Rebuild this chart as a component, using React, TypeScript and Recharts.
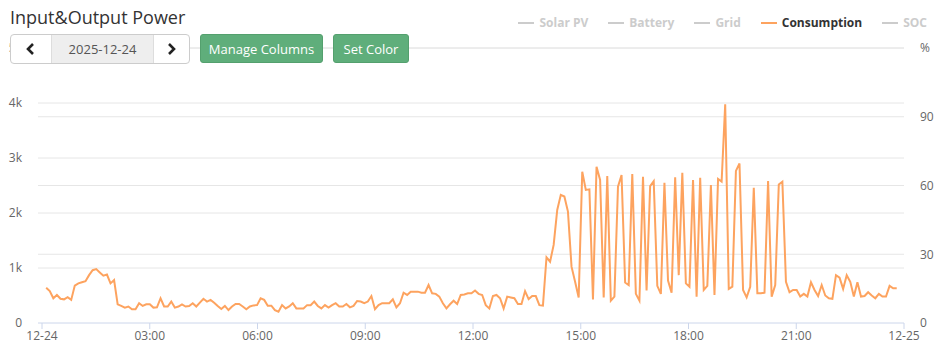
import { LineChart, Line, XAxis, YAxis, ReferenceLine } from "recharts";

// consumption samples (W), roughly every 6 min from 00:07
const consumption = [
  640, 580, 450, 510, 440, 430, 470, 420, 680, 720, 740, 760, 870, 960, 980, 920, 860, 880, 720, 780,
  340, 310, 280, 300, 250, 250, 360, 310, 340, 340, 280, 285, 450, 300, 300, 390, 280, 300, 340, 300, 310,
  360, 300, 370, 440, 390, 420, 370, 310, 255, 310, 235, 300, 345, 345, 300, 250, 300, 320, 325, 450,
  420, 315, 315, 235, 205, 325, 265, 300, 360, 265, 265, 265, 325, 325, 390, 310, 265, 325, 280, 325, 360,
  300, 300, 345, 285, 310, 400, 390, 360, 390, 490, 250, 325, 360, 360, 360, 430, 285, 360, 550, 510,
  570, 570, 570, 550, 550, 690, 540, 530, 480, 360, 265, 340, 405, 345, 510, 520, 540, 540, 590, 530,
  510, 325, 265, 490, 510, 450, 265, 480, 465, 450, 345, 345, 580, 435, 490, 490, 325, 315,
  1195, 1115, 1420, 2055, 2330, 2300, 2025, 1025, 750, 465,
  2750, 2420, 2430, 430, 2840, 2600, 465, 2670, 405, 480, 2480, 2690, 735, 690, 2710, 530, 405, 2660,
  590, 2490, 2580, 675, 530, 2550, 770, 550, 2650, 870, 2730, 720, 660, 2600, 480, 2640, 600, 675, 2510,
  510, 2620, 2570, 3975, 620, 660, 2765, 2900, 600, 465, 660, 2460, 540, 540, 550, 2580, 480, 690, 2520,
  2570, 750, 560, 600, 600, 480, 530, 480, 740, 600, 490, 690, 500, 450, 440, 870, 825, 620, 870, 750,
  480, 740, 480, 490, 560, 500, 450, 530, 480, 480, 675, 630, 630,
];
const startMinute = 7;
const stepMinute = 5.97;

const timeTicks = [0, 180, 360, 540, 720, 900, 1080, 1260, 1440];
const timeLabels = ["12-24", "03:00", "06:00", "09:00", "12:00", "15:00", "18:00", "21:00", "12-25"];
const powerTicks = [0, 1000, 2000, 3000, 4000, 5000];
const socTicks = [0, 30, 60, 90, 120];
const legendItems = [
  { name: "Solar PV", active: false },
  { name: "Battery", active: false },
  { name: "Grid", active: false },
  { name: "Consumption", active: true },
  { name: "SOC", active: false },
];

const ORANGE = "#fda35f";
const GRID = "#e6e6e6";
const AXIS = "#ccd6eb";
const FONT = "'Open Sans', sans-serif";

// SOC is switched off in the legend, so it has no values here
const data = consumption.map((v, i) => ({
  t: startMinute + i * stepMinute,
  consumption: v,
  soc: null as number | null,
}));

function Chevron({ dir }: { dir: "left" | "right" }) {
  const pts = dir === "left" ? "7,1 2,6 7,11" : "2,1 7,6 2,11";
  return (
    <svg width="10" height="12" viewBox="0 0 10 12">
      <polyline points={pts} fill="none" stroke="#222" strokeWidth="2.6" />
    </svg>
  );
}

function Header() {
  const btn: React.CSSProperties = {
    position: "absolute",
    top: 34,
    height: 29,
    background: "#5fae7b",
    border: "1px solid #54a06e",
    borderRadius: 3,
    color: "#fff",
    fontSize: 13,
    display: "flex",
    alignItems: "center",
    justifyContent: "center",
    boxSizing: "border-box",
  };
  return (
    <>
      <div style={{ position: "absolute", top: 2, left: 10, fontSize: 18, color: "#333", lineHeight: "30px" }}>
        Input&amp;Output Power
      </div>
      <div
        style={{
          position: "absolute",
          top: 34,
          left: 10,
          width: 180,
          height: 30,
          border: "1px solid #ccc",
          borderRadius: 4,
          boxSizing: "border-box",
          display: "flex",
          background: "#fff",
          overflow: "hidden",
        }}
      >
        <div style={{ width: 40, display: "flex", alignItems: "center", justifyContent: "center" }}>
          <Chevron dir="left" />
        </div>
        <div
          style={{
            width: 101,
            background: "#eeeeee",
            borderLeft: "1px solid #ddd",
            borderRight: "1px solid #ddd",
            display: "flex",
            alignItems: "center",
            justifyContent: "center",
            fontSize: 13,
            color: "#555",
          }}
        >
          2025-12-24
        </div>
        <div style={{ flex: 1, display: "flex", alignItems: "center", justifyContent: "center" }}>
          <Chevron dir="right" />
        </div>
      </div>
      <div style={{ ...btn, left: 200, width: 123 }}>Manage Columns</div>
      <div style={{ ...btn, left: 333, width: 76 }}>Set Color</div>
      <div
        style={{
          position: "absolute",
          top: 13,
          right: 17,
          display: "flex",
          gap: 20,
          fontSize: 12,
          fontWeight: 700,
          lineHeight: "20px",
        }}
      >
        {legendItems.map((it) => (
          <div key={it.name} style={{ display: "flex", alignItems: "center", gap: 5, color: it.active ? "#333" : "#ccc" }}>
            <span style={{ width: 16, height: 2, background: it.active ? ORANGE : "#ccc", display: "inline-block" }} />
            {it.name}
          </div>
        ))}
      </div>
      <div style={{ position: "absolute", top: 39, left: 920, fontSize: 12, color: "#666" }}>%</div>
    </>
  );
}

export default function App() {
  return (
    <div style={{ position: "absolute", top: 0, left: 0, width: 944, height: 360, background: "#fff", fontFamily: FONT }}>
      <LineChart
        width={944}
        height={360}
        data={data}
        margin={{ top: 48, right: 0, left: 0, bottom: 0 }}
        style={{ position: "absolute", top: 0, left: 0 }}
      >
        {powerTicks.slice(1).map((v) => (
          <ReferenceLine key={"p" + v} yAxisId="power" y={v} stroke={GRID} strokeWidth={1} ifOverflow="visible" />
        ))}
        {socTicks.slice(1).map((v) => (
          <ReferenceLine key={"s" + v} yAxisId="soc" y={v} stroke={GRID} strokeWidth={1} ifOverflow="visible" />
        ))}
        <XAxis
          dataKey="t"
          type="number"
          domain={[0, 1440]}
          ticks={timeTicks}
          tickFormatter={(v: number) => timeLabels[timeTicks.indexOf(v)]}
          padding={{ left: 4, right: 0 }}
          height={37}
          stroke={AXIS}
          tickSize={6}
          tickMargin={2}
          tick={{ fontSize: 12, fill: "#666", fontFamily: FONT }}
          interval={0}
        />
        <YAxis
          yAxisId="power"
          orientation="left"
          width={38}
          domain={[0, 5000]}
          ticks={powerTicks}
          tickFormatter={(v: number) => (v === 0 ? "0" : `${v / 1000}k`)}
          axisLine={false}
          tickLine={false}
          tickSize={0}
          tickMargin={16}
          tick={{ fontSize: 12, fill: "#666", fontFamily: FONT }}
        />
        <YAxis
          yAxisId="soc"
          orientation="right"
          width={40}
          domain={[0, 120]}
          allowDataOverflow
          ticks={socTicks.slice(0, 4)}
          axisLine={false}
          tickLine={false}
          tickSize={0}
          tickMargin={16}
          tick={{ fontSize: 12, fill: "#666", fontFamily: FONT }}
        />
        <Line
          yAxisId="power"
          type="linear"
          dataKey="consumption"
          stroke={ORANGE}
          strokeWidth={2}
          dot={false}
          isAnimationActive={false}
        />
        <Line
          yAxisId="soc"
          type="linear"
          dataKey="soc"
          stroke="#ccc"
          strokeWidth={2}
          dot={false}
          legendType="none"
          isAnimationActive={false}
        />
      </LineChart>
      <Header />
    </div>
  );
}
